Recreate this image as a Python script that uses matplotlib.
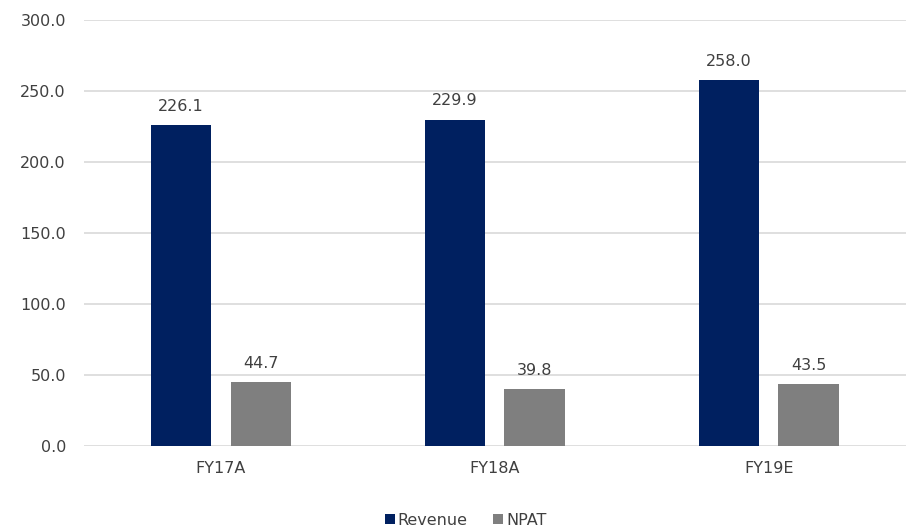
import matplotlib.pyplot as plt
import numpy as np

categories = ['FY17A', 'FY18A', 'FY19E']
revenue = [226.1, 229.9, 258.0]
npat = [44.7, 39.8, 43.5]
y_ticks = [0, 50, 100, 150, 200, 250, 300]

plt.rcParams['font.family'] = ['DejaVu Sans']
text_color = '#404040'
fs = 11.5

fig = plt.figure(figsize=(9.08, 5.29), dpi=100)
ax = fig.add_axes([0.0925, 0.157, 0.905, 0.805])

x = np.arange(len(categories))
w = 0.22
off = 0.145
b1 = ax.bar(x - off, revenue, w, color='#002060', label='Revenue', zorder=3)
b2 = ax.bar(x + off, npat, w, color='#7f7f7f', label='NPAT', zorder=3)

for bars, vals in ((b1, revenue), (b2, npat)):
    for b, v in zip(bars, vals):
        ax.annotate(f'{v:.1f}', (b.get_x() + b.get_width() / 2, v),
                    xytext=(0, 8), textcoords='offset points',
                    ha='center', va='bottom', fontsize=fs, color=text_color)

ax.set_xlim(-0.5, 2.5)
ax.set_ylim(0, 300)
ax.set_yticks(y_ticks)
ax.set_yticklabels([f'{t:.1f}' for t in y_ticks], fontsize=fs, color=text_color)
ax.set_xticks(x)
ax.set_xticklabels(categories, fontsize=fs, color=text_color)
ax.tick_params(length=0)
ax.tick_params(axis='y', pad=13)
ax.tick_params(axis='x', pad=11)
ax.grid(axis='y', color='#d9d9d9', linewidth=1.2, zorder=0)
for s in ax.spines.values():
    s.set_visible(False)

leg = fig.legend(handles=[b1, b2], loc='lower center', bbox_to_anchor=(0.513, -0.025),
                 ncol=2, frameon=False, fontsize=fs, handlelength=0.6, handleheight=0.6,
                 handletextpad=0.2, columnspacing=1.6)
for t in leg.get_texts():
    t.set_color(text_color)

plt.savefig('out.png', dpi=100)
